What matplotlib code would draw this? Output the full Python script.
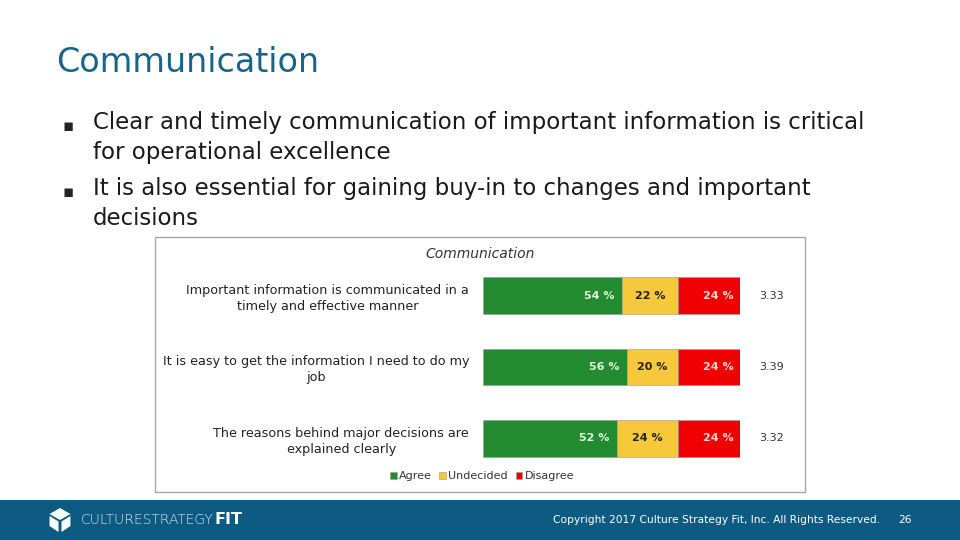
#!/usr/bin/env python3
"""Slide: Communication survey results as stacked horizontal bars."""

import matplotlib

matplotlib.use("Agg")

import matplotlib.pyplot as plt
from matplotlib.patches import Polygon, Rectangle

W, H = 960, 540

TITLE = "Communication"
BULLETS = [
    "Clear and timely communication of important information is critical\nfor operational excellence",
    "It is also essential for gaining buy-in to changes and important\ndecisions",
]

QUESTIONS = [
    "Important information is communicated in a\ntimely and effective manner",
    "It is easy to get the information I need to do my\njob",
    "The reasons behind major decisions are\nexplained clearly",
]
AGREE = [54, 56, 52]
UNDECIDED = [22, 20, 24]
DISAGREE = [24, 24, 24]
SCORES = ["3.33", "3.39", "3.32"]
SERIES = ["Agree", "Undecided", "Disagree"]

TEAL = "#17658a"
FOOTER = "#0d5b83"
GREEN = "#238b30"
YELLOW = "#f7c83b"
RED = "#f00000"


def fx(px):
    return px / W


def fy(py):
    return 1 - py / H


fig = plt.figure(figsize=(9.6, 5.4), dpi=100)
fig.patch.set_facecolor("white")

# slide title and bullets
fig.text(fx(56), fy(62), TITLE, fontsize=24, color=TEAL, va="center", ha="left")
for y, text in zip([126, 192], BULLETS):
    fig.text(fx(63), fy(y), "\u25aa", fontsize=12, color="#222222", va="center", ha="left")
    fig.text(fx(93), fy(y - 15), text, fontsize=16.5, color="#1a1a1a", va="top", ha="left",
             linespacing=1.39)

# chart frame
fig.patches.append(Rectangle((fx(155), fy(492)), fx(650), 255 / H, transform=fig.transFigure,
                             facecolor="white", edgecolor="#a6a6a6", linewidth=1, zorder=-5))
fig.text(fx(480), fy(254), TITLE, fontsize=10, style="italic", color="#333333",
         ha="center", va="center")

ax = fig.add_axes([fx(483), fy(474), fx(257), 214 / H])
ypos = list(range(len(QUESTIONS)))
undecided_left = AGREE
disagree_left = [a + u for a, u in zip(AGREE, UNDECIDED)]
bar_h = 0.51
b1 = ax.barh(ypos, AGREE, height=bar_h, color=GREEN, label=SERIES[0])
b2 = ax.barh(ypos, UNDECIDED, left=undecided_left, height=bar_h, color=YELLOW, label=SERIES[1])
b3 = ax.barh(ypos, DISAGREE, left=disagree_left, height=bar_h, color=RED, label=SERIES[2])
for bars in (b1, b2, b3):
    for rect in bars:
        rect.set_edgecolor("#9a9a9a")
        rect.set_linewidth(0.4)

for i in ypos:
    ax.text(AGREE[i] - 3, i, f"{AGREE[i]} %", color="#e4f3dc", fontsize=8, fontweight="bold",
            ha="right", va="center")
    ax.text(undecided_left[i] + UNDECIDED[i] / 2, i, f"{UNDECIDED[i]} %", color="#222222",
            fontsize=8, fontweight="bold", ha="center", va="center")
    ax.text(100 - 2.5, i, f"{DISAGREE[i]} %", color="#ffd6d6", fontsize=8, fontweight="bold",
            ha="right", va="center")
    ax.text(107.5, i, SCORES[i], color="#333333", fontsize=8, ha="left", va="center")

ax.set_xlim(0, 100)
ax.set_ylim(len(QUESTIONS) - 0.5, -0.5)
ax.set_yticks(ypos)
ax.set_yticklabels(QUESTIONS, fontsize=9.2, color="#222222", linespacing=1.3)
for label in ax.get_yticklabels():
    label.set_multialignment("center")
ax.tick_params(axis="y", length=0, pad=10)
ax.set_xticks([])
for spine in ax.spines.values():
    spine.set_visible(False)
ax.patch.set_alpha(0)

fig.legend(handles=[b1, b2, b3], labels=SERIES, loc="center", bbox_to_anchor=(fx(482), fy(476)),
           ncol=3, frameon=False, fontsize=8, handlelength=0.6, handleheight=0.6,
           handletextpad=0.2, columnspacing=0.7, labelcolor="#333333")

# footer bar
fig.patches.append(Rectangle((0, 0), 1, 40 / H, transform=fig.transFigure,
                             facecolor=FOOTER, edgecolor="none", zorder=-5))
cx, cy, r = 60, 520, 12
top = [(cx, cy - r), (cx + r * 0.87, cy - r / 2), (cx, cy), (cx - r * 0.87, cy - r / 2)]
left = [(cx - r * 0.87, cy - r / 2 + 2), (cx - 1.5, cy + 1.5), (cx - 1.5, cy + r), (cx - r * 0.87, cy + r / 2)]
right = [(cx + 1.5, cy + 1.5), (cx + r * 0.87, cy - r / 2 + 2), (cx + r * 0.87, cy + r / 2), (cx + 1.5, cy + r)]
for poly in (top, left, right):
    fig.patches.append(Polygon([(fx(x), fy(y)) for x, y in poly], closed=True,
                               transform=fig.transFigure, facecolor="white", edgecolor="none"))
brand = fig.text(fx(81), fy(520), "CULTURESTRATEGY", fontsize=10, color="#dce9f2",
                 fontweight="light", ha="left", va="center")
renderer = fig.canvas.get_renderer()
brand_end = brand.get_window_extent(renderer).x1
fig.text(brand_end / W + fx(1), fy(520), "FIT", fontsize=11.5, color="white", fontweight="bold",
         ha="left", va="center")
fig.text(fx(880), fy(520), "Copyright 2017 Culture Strategy Fit, Inc. All Rights Reserved.",
         fontsize=7.7, color="white", ha="right", va="center")
fig.text(fx(912), fy(520), "26", fontsize=7.7, color="white", ha="right", va="center")

fig.savefig("out.png", dpi=100)
